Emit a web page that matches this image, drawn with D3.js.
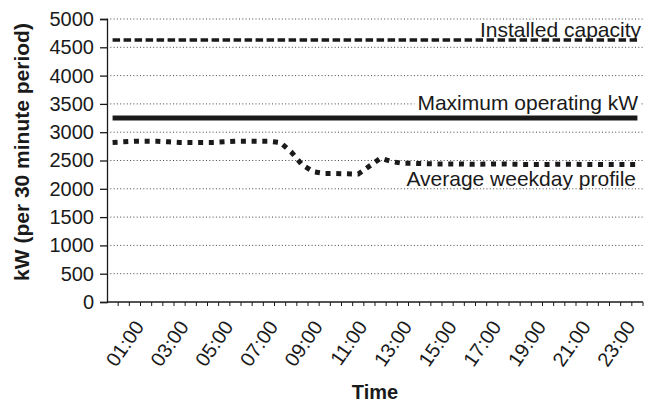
<!DOCTYPE html>
<html>
<head>
<meta charset="utf-8">
<script src="https://cdn.jsdelivr.net/npm/d3@7"></script>
<style>
  html, body { margin: 0; padding: 0; background: #fff; }
  svg { display: block; }
  text { font-family: "Liberation Sans", Arial, Helvetica, sans-serif; fill: #1a1a1a; }
</style>
</head>
<body>
<svg id="chart" width="646" height="408"></svg>
<script>
// ---- data ----
const times = [];
for (let h = 0; h < 24; h++) {
  times.push(String(h).padStart(2, "0") + ":00");
  times.push(String(h).padStart(2, "0") + ":30");
}
const tickLabels = ["01:00","03:00","05:00","07:00","09:00","11:00","13:00","15:00","17:00","19:00","21:00","23:00"];
const yTicks = [0,500,1000,1500,2000,2500,3000,3500,4000,4500,5000];
const averageWeekday = [
  2820, 2830, 2840, 2840, 2840, 2830, 2820, 2820, 2820, 2820, 2830, 2840,
  2840, 2840, 2840, 2820, 2650, 2420, 2300, 2270, 2270, 2265, 2260, 2400,
  2540, 2480, 2450, 2450, 2445, 2440, 2440, 2440, 2435, 2435, 2440, 2440,
  2435, 2430, 2430, 2430, 2435, 2435, 2430, 2430, 2430, 2430, 2430, 2430
];
const installedCapacity = times.map(() => 4630);
const maxOperating = times.map(() => 3250);

// ---- layout ----
const svg = d3.select("#chart");
const mLeft = 107, mRight = 643, mTop = 19, mBottom = 302;

const x = d3.scaleBand().domain(times).range([mLeft, mRight]).padding(0);
const y = d3.scaleLinear().domain([0, 5000]).range([mBottom, mTop]);
const cx = d => x(d) + x.bandwidth() / 2;

// gridlines
svg.append("g").selectAll("line")
  .data(yTicks.filter(v => v > 0))
  .join("line")
  .attr("x1", mLeft).attr("x2", mRight)
  .attr("y1", d => y(d)).attr("y2", d => y(d))
  .attr("stroke", "#444").attr("stroke-width", 1)
  .attr("stroke-dasharray", "1,2.3");

// y axis
const yAxis = svg.append("g").attr("transform", `translate(${mLeft},0)`)
  .call(d3.axisLeft(y).tickValues(yTicks).tickSize(7).tickPadding(6).tickFormat(d3.format("d")));
yAxis.select(".domain").attr("stroke", "#1a1a1a").attr("stroke-width", 1.3);
yAxis.selectAll(".tick line").attr("stroke", "#1a1a1a").attr("stroke-width", 1.3);
yAxis.selectAll(".tick text").attr("font-size", 20).attr("fill", "#1a1a1a")
  .style("font-family", '"Liberation Sans", Arial, sans-serif');

// x axis line + ticks at band boundaries
svg.append("line").attr("x1", mLeft).attr("x2", mRight).attr("y1", mBottom).attr("y2", mBottom)
  .attr("stroke", "#1a1a1a").attr("stroke-width", 1.3);
svg.append("g").selectAll("line")
  .data(times.slice(1).concat(["__end"]))
  .join("line")
  .attr("x1", d => d === "__end" ? mRight : x(d))
  .attr("x2", d => d === "__end" ? mRight : x(d))
  .attr("y1", mBottom).attr("y2", mBottom + 4)
  .attr("stroke", "#1a1a1a").attr("stroke-width", 1);

// x tick labels
svg.append("g").selectAll("text")
  .data(tickLabels)
  .join("text")
  .attr("transform", d => `translate(${cx(d) + 10},${mBottom + 25}) rotate(-55)`)
  .attr("text-anchor", "end")
  .attr("font-size", 20)
  .text(d => d);

// series
const line = d3.line().x((d, i) => cx(times[i])).y(d => y(d));

svg.append("path").datum(maxOperating)
  .attr("d", line).attr("fill", "none")
  .attr("stroke", "#1a1a1a").attr("stroke-width", 5);

svg.append("path").datum(installedCapacity)
  .attr("d", line).attr("fill", "none")
  .attr("stroke", "#1a1a1a").attr("stroke-width", 3.5)
  .attr("stroke-dasharray", "7.5,3.5");

svg.append("path").datum(averageWeekday)
  .attr("d", line).attr("fill", "none")
  .attr("stroke", "#1a1a1a").attr("stroke-width", 5)
  .attr("stroke-dasharray", "5,5.7");

// annotations
function label(text, xr, yb, box) {
  const g = svg.append("g");
  const t = g.append("text").attr("x", xr).attr("y", yb)
    .attr("text-anchor", "end").attr("font-size", 21).text(text);
  if (box) {
    const b = t.node().getBBox();
    g.insert("rect", "text").attr("x", b.x - 3).attr("y", b.y + 2)
      .attr("width", b.width + 5).attr("height", b.height - 4).attr("fill", "#fff");
  }
}
label("Installed capacity", 641, 37, false);
label("Maximum operating kW", 638, 110, true);
label("Average weekday profile", 636, 186, true);

// axis titles
svg.append("text").attr("x", (mLeft + mRight) / 2).attr("y", 399)
  .attr("text-anchor", "middle").attr("font-size", 20).attr("font-weight", "bold").text("Time");
svg.append("text").attr("transform", "translate(29,152) rotate(-90)")
  .attr("text-anchor", "middle").attr("font-size", 21).attr("font-weight", "bold")
  .text("kW (per 30 minute period)");
</script>
</body>
</html>
